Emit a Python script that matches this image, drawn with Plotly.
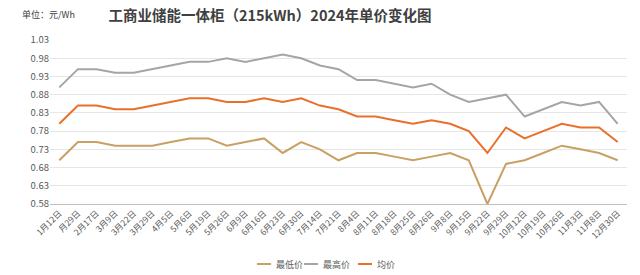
import plotly.graph_objects as go

categories = ["1月12日", "月29日", "2月17日", "3月9日", "3月22日", "3月29日", "4月5日", "5月6日",
              "5月19日", "5月26日", "6月9日", "6月16日", "6月23日", "6月30日", "7月14日", "7月21日",
              "8月4日", "8月11日", "8月18日", "8月25日", "8月26日", "9月8日", "9月15日", "9月22日",
              "9月29日", "10月12日", "10月19日", "10月26日", "11月3日", "11月8日", "12月30日"]

min_price = [0.70, 0.75, 0.75, 0.74, 0.74, 0.74, 0.75, 0.76, 0.76, 0.74, 0.75, 0.76, 0.72, 0.75, 0.73, 0.70,
             0.72, 0.72, 0.71, 0.70, 0.71, 0.72, 0.70, 0.58, 0.69, 0.70, 0.72, 0.74, 0.73, 0.72, 0.70]
max_price = [0.90, 0.95, 0.95, 0.94, 0.94, 0.95, 0.96, 0.97, 0.97, 0.98, 0.97, 0.98, 0.99, 0.98, 0.96, 0.95,
             0.92, 0.92, 0.91, 0.90, 0.91, 0.88, 0.86, 0.87, 0.88, 0.82, 0.84, 0.86, 0.85, 0.86, 0.80]
avg_price = [0.80, 0.85, 0.85, 0.84, 0.84, 0.85, 0.86, 0.87, 0.87, 0.86, 0.86, 0.87, 0.86, 0.87, 0.85, 0.84,
             0.82, 0.82, 0.81, 0.80, 0.81, 0.80, 0.78, 0.72, 0.79, 0.76, 0.78, 0.80, 0.79, 0.79, 0.75]

series_names = ["最低价", "最高价", "均价"]
series_colors = ["#C9A063", "#A5A5A5", "#E8702A"]

y_ticks = [0.58, 0.63, 0.68, 0.73, 0.78, 0.83, 0.88, 0.93, 0.98, 1.03]

FONT = "Noto Sans CJK SC"
L, R, T, B = 50, 13, 40, 71
W, H = 640, 275
PW, PH = W - L - R, H - T - B


def px_x(x):
    return (x - L) / PW


def px_y(y):
    return (H - B - y) / PH


fig = go.Figure()
for vals, name, color in zip([min_price, max_price, avg_price], series_names, series_colors):
    fig.add_trace(go.Scatter(x=categories, y=vals, name=name, mode="lines",
                             line=dict(color=color, width=2), showlegend=False))

# compact legend drawn below the plot (line sample + text for each series)
legend_y = 264
legend_line_x = [257, 304, 358]
shapes = []
annotations = [dict(text="单位：元/Wh", x=px_x(20), y=px_y(14), xref="paper", yref="paper",
                    xanchor="left", yanchor="middle", showarrow=False,
                    font=dict(size=9, color="#404040", family=FONT))]
for x0, name, color in zip(legend_line_x, series_names, series_colors):
    shapes.append(dict(type="line", xref="paper", yref="paper",
                       x0=px_x(x0), x1=px_x(x0 + 14), y0=px_y(legend_y), y1=px_y(legend_y),
                       line=dict(color=color, width=2)))
    annotations.append(dict(text=name, x=px_x(x0 + 17), y=px_y(legend_y), xref="paper", yref="paper",
                            xanchor="left", yanchor="middle", showarrow=False,
                            font=dict(size=9, color="#595959", family=FONT)))

fig.update_layout(
    width=W, height=H,
    margin=dict(l=L, r=R, t=T, b=B, autoexpand=False),
    paper_bgcolor="white", plot_bgcolor="white",
    font=dict(family=FONT, color="#595959", size=9),
    title=dict(text="<b>工商业储能一体柜（215kWh）2024年单价变化图</b>",
               x=270/640, xanchor="center", xref="container",
               y=1 - 16/275, yanchor="middle", yref="container",
               font=dict(family=FONT, size=14.5, color="#404040")),
    showlegend=False,
    xaxis=dict(type="category", tickangle=-45, showgrid=False, showline=True, automargin=False,
               linecolor="#BFBFBF", linewidth=1, ticks="", tickfont=dict(size=8.5, color="#595959"),
               range=[-0.5, len(categories) - 0.5]),
    yaxis=dict(range=[0.58, 1.03], tickvals=y_ticks, tickformat=".2f", automargin=False,
               showgrid=True, gridcolor="#E6E6E6", gridwidth=1, zeroline=False,
               showline=False, ticks="", tickfont=dict(size=9.5, color="#595959")),
    shapes=shapes,
    annotations=annotations,
)

fig.write_html("out.html")
